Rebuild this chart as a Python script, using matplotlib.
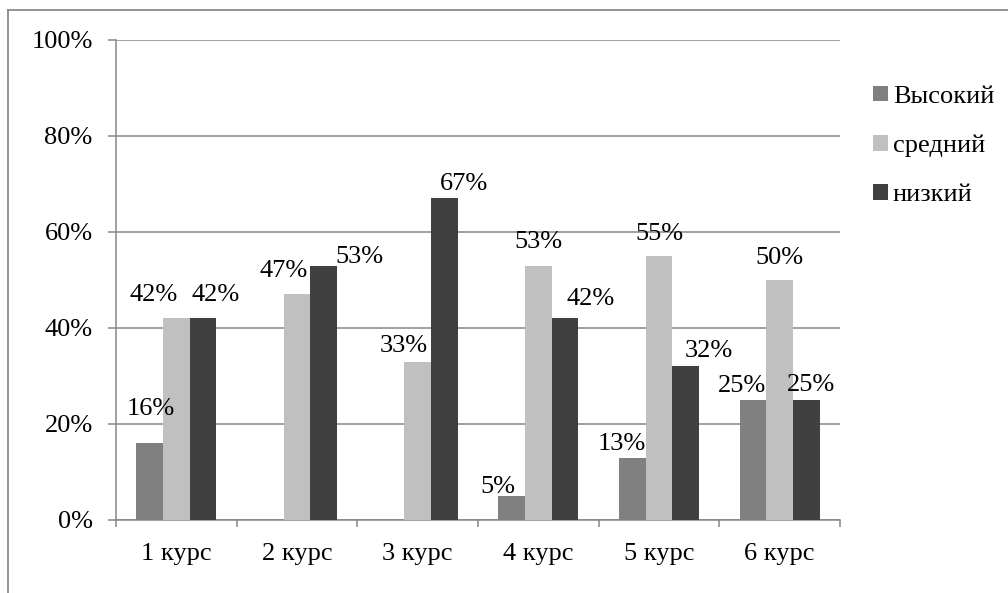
import numpy as np
import matplotlib
matplotlib.use('Agg')
import matplotlib.pyplot as plt
from matplotlib.patches import Patch
from matplotlib.lines import Line2D
from matplotlib.ticker import FuncFormatter

# data
courses = ['1 курс', '2 курс', '3 курс', '4 курс', '5 курс', '6 курс']
series_names = ['Высокий', 'средний', 'низкий']
high = [16, 0, 0, 5, 13, 25]
mid = [42, 47, 33, 53, 55, 50]
low = [42, 53, 67, 42, 32, 25]

colors = ['#808080', '#c0c0c0', '#404040']
grid_col = '#868686'

# label shifts (dx, dy) in pixels from the top centre of each bar
label_shift = [
    [(1, 37), (0, 0), (0, 0), (-14, 12), (-11, 17), (-11, 17)],
    [(-23, 26), (-13, 26), (-14, 19), (0, 27), (0, 25), (0, 25)],
    [(13, 26), (36, 12), (20, 17), (26, 22), (23, 18), (5, 18)],
]

fs = 19
plt.rcParams['font.family'] = 'serif'
plt.rcParams['font.serif'] = ['Liberation Serif', 'DejaVu Serif']
plt.rcParams['font.size'] = fs

fig = plt.figure(figsize=(10.08, 5.93), dpi=100)
ax = fig.add_axes([116/1008, 1 - 520/593, (840-116)/1008, (520-40)/593])

x = np.arange(len(courses))
w = 0.221
px = 0.72  # points per pixel

for i, vals in enumerate([high, mid, low]):
    pos = x + (i - 1) * w
    ax.bar(pos, [v / 100 for v in vals], width=w, color=colors[i], zorder=3)
    for j, v in enumerate(vals):
        if v == 0:
            continue
        dx, dy = label_shift[i][j]
        ax.annotate(f'{v}%', (pos[j], v / 100),
                    xytext=(dx * px, (dy - 9) * px), textcoords='offset points',
                    ha='center', va='baseline', fontsize=fs, zorder=4)

ax.set_xlim(-0.5, len(courses) - 0.5)
ax.set_ylim(0, 1)
ax.set_yticks(np.arange(0, 1.01, 0.2))
ax.yaxis.set_major_formatter(FuncFormatter(lambda v, p: f'{v:.0%}'))
ax.yaxis.grid(True, color=grid_col, linewidth=1.1, zorder=0)

# category boundaries get the tick marks, centres get the labels
ax.set_xticks(np.arange(-0.5, len(courses), 1.0))
ax.set_xticklabels([])
ax.set_xticks(x, minor=True)
ax.set_xticklabels(courses, minor=True)
ax.tick_params(axis='x', which='major', length=5, width=1.1, color=grid_col, direction='out')
ax.tick_params(axis='x', which='minor', length=0, pad=16.5, labelsize=fs)
ax.tick_params(axis='y', length=5.8, width=1.1, color=grid_col, direction='out', pad=11, labelsize=fs)

for s in ['top', 'right']:
    ax.spines[s].set_visible(False)
for s in ['left', 'bottom']:
    ax.spines[s].set_color(grid_col)
    ax.spines[s].set_linewidth(1.1)

# legend
handles = [Patch(facecolor=c, edgecolor='none') for c in colors]
fig.legend(handles, series_names, loc='center left',
           bbox_to_anchor=(873/1008, 1 - 146/593), frameon=False,
           handlelength=0.55, handleheight=0.55, handletextpad=0.2,
           labelspacing=1.02, borderpad=0, borderaxespad=0, fontsize=fs)

# outer chart frame
fig.add_artist(Line2D([8/1008, 8/1008], [-0.1, 1 - 9.5/593], transform=fig.transFigure,
                      color='#8a8a8a', linewidth=1.3))
fig.add_artist(Line2D([8/1008, 1.1], [1 - 9.5/593, 1 - 9.5/593], transform=fig.transFigure,
                      color='#8a8a8a', linewidth=1.3))

fig.savefig('out.png', dpi=100)
